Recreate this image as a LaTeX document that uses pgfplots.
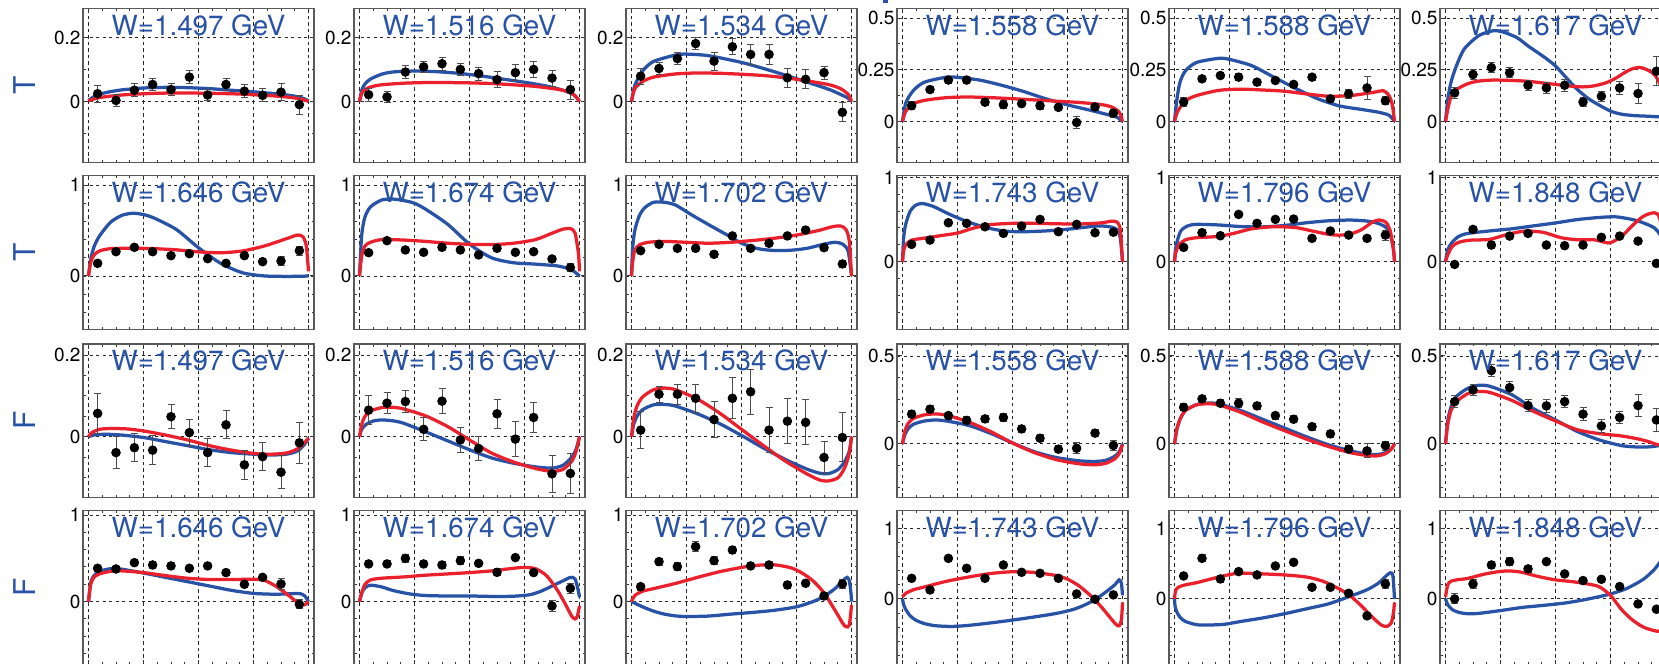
\documentclass[border=0pt]{standalone}
\usepackage{fontspec}
\setmainfont{TeX Gyre Heros}
\usepackage{pgfplots}
\pgfplotsset{compat=1.18}
\definecolor{cblue}{RGB}{40,82,165}
\definecolor{cred}{RGB}{234,32,45}
\definecolor{tblue}{RGB}{40,82,165}
\pgfplotsset{
 panel/.style={
  scale only axis, width=92.4pt, height=61.4pt, anchor=north west,
  xmin=-1.05, xmax=1.05, xtick={-1,-0.5,0,0.5,1}, xticklabels={}, minor x tick num=3,
  tick align=inside, tick pos=both, yticklabel pos=left,
  major tick length=1.8pt, minor tick length=1.0pt,
  every tick/.style={black!80, line width=0.4pt},
  grid=major, major grid style={black!85, line width=0.35pt, dash pattern=on 1.3pt off 1.3pt},
  axis line style={black!65, line width=0.5pt},
  every axis title/.style={at={(0.5,1)}, anchor=base, yshift=-10.6pt, font=\fontsize{11.1}{12}\selectfont, text=tblue, inner sep=0pt},
  yticklabel style={font=\fontsize{7.6}{8}\selectfont, inner sep=0.8pt, /pgf/number format/fixed},
  /pgf/number format/assume math mode=true,
  ylabel style={at={(axis description cs:-0.255,0.5)}, anchor=center, font=\fontsize{12}{13}\selectfont, text=tblue},
  clip=true,
 },
 A/.style={panel, ymin=-0.19, ymax=0.29, ytick={0,0.2}, minor ytick={-0.1,0.1}},
 B/.style={panel, ymin=-0.197, ymax=0.545, ytick={0,0.25,0.5}, minor ytick={-0.125,0.125,0.375}},
 C/.style={panel, ymin=-0.586, ymax=1.103, ytick={0,1}, minor ytick={-0.4,-0.2,0.2,0.4,0.6,0.8}},
 D/.style={panel, ymin=-0.80, ymax=1.02, ytick={0,1}, minor ytick={-0.6,-0.4,-0.2,0.2,0.4,0.6,0.8}},
 E/.style={panel, ymin=-0.149, ymax=0.227, ytick={0,0.2}, minor ytick={-0.1,-0.05,0.05,0.1,0.15}},
 F/.style={panel, ymin=-0.305, ymax=0.568, ytick={0,0.5}, minor ytick={-0.25,-0.125,0.125,0.25,0.375}},
 G/.style={panel, ymin=-0.723, ymax=1.05, ytick={0,1}, minor ytick={-0.6,-0.4,-0.2,0.2,0.4,0.6,0.8}},
 H/.style={panel, ymin=-0.925, ymax=1.25, ytick={0,1}, minor ytick={-0.8,-0.6,-0.4,-0.2,0.2,0.4,0.6,0.8}},
 bl/.style={smooth, tension=0.45, line width=1.3pt, cblue, no markers},
 rd/.style={smooth, tension=0.45, line width=1.3pt, cred, no markers},
 dat/.style={only marks, mark=*, mark size=1.7pt, black, error bars/.cd, y dir=both, y explicit,
   error bar style={line width=0.4pt, black!70}, error mark options={rotate=90, mark size=1.4pt, line width=0.4pt, black!70}},
}
\begin{document}
\begin{tikzpicture}
\useasboundingbox (0,0) rectangle (663.6pt,265.2pt);
\clip (0,0) rectangle (663.6pt,265.2pt);
\fill[tblue] (353.2pt,263.8pt) rectangle (355.2pt,265.2pt);
% ================= ROW 1 (T) =================
\begin{axis}[A, at={(33.2pt,261.72pt)}, title={W=1.497 GeV}, ylabel={T}]
\addplot[bl] coordinates {(-1,0.003) (-0.95,0.015) (-0.85,0.027) (-0.7,0.036) (-0.5,0.042) (-0.3,0.044) (-0.1,0.043) (0.1,0.04) (0.3,0.035) (0.5,0.03) (0.7,0.024) (0.85,0.018) (0.95,0.01) (1,0.002)};
\addplot[rd] coordinates {(-1,0.002) (-0.9,0.012) (-0.7,0.02) (-0.5,0.024) (-0.3,0.026) (0,0.026) (0.3,0.024) (0.5,0.021) (0.7,0.017) (0.85,0.012) (0.95,0.006) (1,0)};
\addplot[dat] coordinates {(-0.917,0.024)+-(0,0.026) (-0.75,0.003)+-(0,0.02) (-0.583,0.035)+-(0,0.02) (-0.417,0.053)+-(0,0.02) (-0.25,0.037)+-(0,0.02) (-0.083,0.076)+-(0,0.02) (0.083,0.02)+-(0,0.017) (0.25,0.053)+-(0,0.02) (0.417,0.032)+-(0,0.02) (0.583,0.019)+-(0,0.02) (0.75,0.029)+-(0,0.027) (0.917,-0.01)+-(0,0.03)};
\end{axis}
\begin{axis}[A, at={(141.6pt,261.72pt)}, title={W=1.516 GeV}]
\addplot[bl] coordinates {(-1,0) (-0.98,0.035) (-0.95,0.055) (-0.9,0.07) (-0.8,0.085) (-0.7,0.092) (-0.5,0.095) (-0.3,0.093) (-0.1,0.088) (0.1,0.08) (0.3,0.07) (0.5,0.06) (0.7,0.048) (0.85,0.035) (0.95,0.02) (1,0)};
\addplot[rd] coordinates {(-1,0) (-0.98,0.025) (-0.95,0.037) (-0.9,0.045) (-0.8,0.052) (-0.6,0.057) (-0.4,0.059) (-0.2,0.059) (0,0.058) (0.2,0.056) (0.4,0.052) (0.6,0.047) (0.8,0.038) (0.9,0.03) (0.96,0.018) (1,0)};
\addplot[dat] coordinates {(-0.917,0.021)+-(0,0.02) (-0.75,0.014)+-(0,0.018) (-0.583,0.092)+-(0,0.02) (-0.417,0.108)+-(0,0.017) (-0.25,0.118)+-(0,0.02) (-0.083,0.10)+-(0,0.02) (0.083,0.087)+-(0,0.02) (0.25,0.068)+-(0,0.025) (0.417,0.09)+-(0,0.025) (0.583,0.10)+-(0,0.025) (0.75,0.073)+-(0,0.025) (0.917,0.037)+-(0,0.03)};
\end{axis}
\begin{axis}[A, at={(250.4pt,261.72pt)}, title={W=1.534 GeV}]
\addplot[bl] coordinates {(-1,0) (-0.97,0.05) (-0.9,0.095) (-0.8,0.125) (-0.6,0.145) (-0.5,0.148) (-0.3,0.143) (0,0.122) (0.2,0.103) (0.4,0.082) (0.6,0.06) (0.8,0.037) (0.9,0.022) (0.97,0.01) (1,0)};
\addplot[rd] coordinates {(-1,0) (-0.97,0.04) (-0.9,0.062) (-0.8,0.076) (-0.6,0.086) (-0.4,0.089) (-0.2,0.088) (0,0.085) (0.2,0.081) (0.4,0.074) (0.6,0.064) (0.8,0.052) (0.9,0.04) (0.97,0.022) (1,0)};
\addplot[dat] coordinates {(-0.917,0.079)+-(0,0.025) (-0.75,0.103)+-(0,0.02) (-0.583,0.134)+-(0,0.02) (-0.417,0.181)+-(0,0.02) (-0.25,0.126)+-(0,0.028) (-0.083,0.171)+-(0,0.025) (0.083,0.147)+-(0,0.03) (0.25,0.147)+-(0,0.03) (0.417,0.074)+-(0,0.03) (0.583,0.069)+-(0,0.03) (0.75,0.09)+-(0,0.02) (0.917,-0.034)+-(0,0.03)};
\end{axis}
\begin{axis}[B, at={(358.8pt,261.72pt)}, title={W=1.558 GeV}]
\addplot[bl] coordinates {(-1,0) (-0.97,0.09) (-0.9,0.15) (-0.8,0.19) (-0.6,0.214) (-0.5,0.213) (-0.3,0.2) (-0.1,0.175) (0.1,0.145) (0.3,0.11) (0.5,0.08) (0.7,0.055) (0.85,0.035) (0.95,0.02) (1,0)};
\addplot[rd] coordinates {(-1,0) (-0.97,0.05) (-0.9,0.085) (-0.8,0.102) (-0.6,0.115) (-0.4,0.118) (-0.2,0.115) (0,0.11) (0.2,0.104) (0.4,0.098) (0.6,0.092) (0.8,0.082) (0.9,0.07) (0.97,0.045) (1,0)};
\addplot[dat] coordinates {(-0.917,0.076)+-(0,0.02) (-0.75,0.154)+-(0,0.015) (-0.583,0.20)+-(0,0.015) (-0.417,0.20)+-(0,0.015) (-0.25,0.093)+-(0,0.018) (-0.083,0.081)+-(0,0.018) (0.083,0.086)+-(0,0.015) (0.25,0.076)+-(0,0.018) (0.417,0.068)+-(0,0.015) (0.583,-0.005)+-(0,0.03) (0.75,0.07)+-(0,0.015) (0.917,0.04)+-(0,0.02)};
\end{axis}
\begin{axis}[B, at={(467.6pt,261.72pt)}, title={W=1.588 GeV}]
\addplot[bl] coordinates {(-1,0) (-0.98,0.1) (-0.95,0.19) (-0.9,0.245) (-0.8,0.285) (-0.6,0.305) (-0.5,0.3) (-0.3,0.27) (-0.1,0.215) (0.1,0.16) (0.3,0.11) (0.5,0.075) (0.7,0.058) (0.85,0.045) (0.95,0.03) (1,0)};
\addplot[rd] coordinates {(-1,0) (-0.97,0.05) (-0.9,0.1) (-0.8,0.125) (-0.6,0.15) (-0.4,0.156) (-0.2,0.152) (0,0.146) (0.2,0.133) (0.4,0.122) (0.6,0.125) (0.8,0.14) (0.9,0.148) (0.95,0.125) (0.98,0.08) (1,0)};
\addplot[dat] coordinates {(-0.917,0.094)+-(0,0.02) (-0.75,0.206)+-(0,0.012) (-0.583,0.222)+-(0,0.015) (-0.417,0.214)+-(0,0.018) (-0.25,0.19)+-(0,0.015) (-0.083,0.198)+-(0,0.015) (0.083,0.179)+-(0,0.015) (0.25,0.214)+-(0,0.015) (0.417,0.109)+-(0,0.015) (0.583,0.133)+-(0,0.02) (0.75,0.162)+-(0,0.055) (0.917,0.10)+-(0,0.02)};
\end{axis}
\begin{axis}[B, at={(576.0pt,261.72pt)}, title={W=1.617 GeV}]
\addplot[bl] coordinates {(-1,0) (-0.98,0.105) (-0.95,0.19) (-0.9,0.27) (-0.83,0.35) (-0.7,0.414) (-0.57,0.438) (-0.48,0.433) (-0.35,0.405) (-0.25,0.365) (-0.1,0.31) (0,0.268) (0.1,0.21) (0.2,0.154) (0.3,0.11) (0.39,0.081) (0.5,0.05) (0.6,0.035) (0.72,0.028) (0.85,0.025) (1,0.02)};
\addplot[rd] coordinates {(-1,0) (-0.98,0.057) (-0.95,0.12) (-0.9,0.154) (-0.8,0.182) (-0.7,0.195) (-0.57,0.2) (-0.4,0.198) (-0.25,0.194) (-0.1,0.185) (0,0.179) (0.15,0.17) (0.25,0.167) (0.35,0.172) (0.46,0.187) (0.55,0.21) (0.65,0.243) (0.72,0.258) (0.78,0.26) (0.85,0.245) (0.91,0.219) (0.97,0.15) (1,0)};
\addplot[dat] coordinates {(-0.917,0.138)+-(0,0.025) (-0.75,0.227)+-(0,0.025) (-0.583,0.26)+-(0,0.025) (-0.417,0.235)+-(0,0.025) (-0.25,0.175)+-(0,0.025) (-0.083,0.162)+-(0,0.025) (0.083,0.175)+-(0,0.03) (0.25,0.094)+-(0,0.02) (0.417,0.122)+-(0,0.025) (0.583,0.162)+-(0,0.03) (0.75,0.135)+-(0,0.05) (0.917,0.243)+-(0,0.07)};
\end{axis}
% ================= ROW 2 (T) =================
\begin{axis}[C, at={(33.2pt,194.92pt)}, title={W=1.646 GeV}, ylabel={T}]
\addplot[bl] coordinates {(-1,0) (-0.98,0.18) (-0.95,0.32) (-0.9,0.44) (-0.8,0.59) (-0.7,0.665) (-0.6,0.69) (-0.5,0.675) (-0.4,0.635) (-0.2,0.51) (0,0.31) (0.2,0.14) (0.4,0.035) (0.6,0.0) (0.8,-0.005) (0.95,-0.003) (1,0)};
\addplot[rd] coordinates {(-1,0) (-0.98,0.15) (-0.95,0.23) (-0.9,0.275) (-0.8,0.3) (-0.6,0.305) (-0.4,0.3) (-0.2,0.287) (0,0.265) (0.2,0.255) (0.4,0.275) (0.6,0.33) (0.8,0.41) (0.9,0.45) (0.95,0.43) (0.98,0.33) (1,0.05)};
\addplot[dat] coordinates {(-0.917,0.139)+-(0,0.02) (-0.75,0.267)+-(0,0.02) (-0.583,0.315)+-(0,0.02) (-0.417,0.267)+-(0,0.02) (-0.25,0.223)+-(0,0.025) (-0.083,0.245)+-(0,0.02) (0.083,0.19)+-(0,0.02) (0.25,0.139)+-(0,0.02) (0.417,0.223)+-(0,0.02) (0.583,0.157)+-(0,0.03) (0.75,0.165)+-(0,0.05) (0.917,0.278)+-(0,0.05)};
\end{axis}
\begin{axis}[C, at={(141.6pt,194.92pt)}, title={W=1.674 GeV}]
\addplot[bl] coordinates {(-1,0) (-0.98,0.45) (-0.95,0.65) (-0.9,0.76) (-0.8,0.835) (-0.7,0.846) (-0.6,0.83) (-0.5,0.8) (-0.4,0.735) (-0.2,0.57) (0,0.35) (0.2,0.2) (0.4,0.145) (0.6,0.13) (0.8,0.11) (0.9,0.08) (0.95,0.05) (1,0)};
\addplot[rd] coordinates {(-1,0) (-0.98,0.22) (-0.95,0.33) (-0.9,0.37) (-0.8,0.4) (-0.6,0.395) (-0.4,0.38) (-0.2,0.36) (0,0.348) (0.2,0.345) (0.4,0.36) (0.6,0.4) (0.75,0.47) (0.85,0.515) (0.92,0.52) (0.96,0.47) (0.99,0.25) (1,0.05)};
\addplot[dat] coordinates {(-0.917,0.256)+-(0,0.02) (-0.75,0.388)+-(0,0.025) (-0.583,0.286)+-(0,0.025) (-0.417,0.26)+-(0,0.02) (-0.25,0.315)+-(0,0.025) (-0.083,0.286)+-(0,0.025) (0.083,0.231)+-(0,0.025) (0.25,0.304)+-(0,0.025) (0.417,0.26)+-(0,0.02) (0.583,0.267)+-(0,0.02) (0.75,0.187)+-(0,0.03) (0.917,0.092)+-(0,0.04)};
\end{axis}
\begin{axis}[C, at={(250.4pt,194.92pt)}, title={W=1.702 GeV}]
\addplot[bl] coordinates {(-1,0) (-0.99,0.3) (-0.97,0.5) (-0.93,0.66) (-0.88,0.75) (-0.8,0.81) (-0.7,0.81) (-0.6,0.78) (-0.45,0.67) (-0.3,0.565) (-0.1,0.43) (0,0.36) (0.15,0.3) (0.3,0.28) (0.45,0.283) (0.6,0.305) (0.75,0.35) (0.85,0.37) (0.92,0.35) (0.97,0.27) (1,0)};
\addplot[rd] coordinates {(-1,0) (-0.99,0.15) (-0.97,0.28) (-0.93,0.34) (-0.85,0.37) (-0.7,0.38) (-0.5,0.37) (-0.3,0.36) (-0.1,0.37) (0.1,0.39) (0.3,0.415) (0.5,0.45) (0.7,0.5) (0.82,0.54) (0.9,0.55) (0.95,0.51) (0.98,0.38) (1,0)};
\addplot[dat] coordinates {(-0.917,0.278)+-(0,0.03) (-0.75,0.348)+-(0,0.025) (-0.583,0.304)+-(0,0.025) (-0.417,0.304)+-(0,0.03) (-0.25,0.238)+-(0,0.03) (-0.083,0.44)+-(0,0.03) (0.083,0.304)+-(0,0.025) (0.25,0.359)+-(0,0.025) (0.417,0.44)+-(0,0.03) (0.583,0.505)+-(0,0.03) (0.75,0.311)+-(0,0.035) (0.917,0.132)+-(0,0.04)};
\end{axis}
\begin{axis}[D, at={(358.8pt,194.92pt)}, title={W=1.743 GeV}]
\addplot[bl] coordinates {(-1,0) (-0.99,0.28) (-0.97,0.45) (-0.93,0.6) (-0.88,0.67) (-0.82,0.69) (-0.72,0.655) (-0.56,0.555) (-0.4,0.47) (-0.24,0.405) (-0.08,0.365) (0.08,0.355) (0.3,0.365) (0.5,0.385) (0.7,0.415) (0.8,0.425) (0.9,0.41) (0.95,0.38) (0.98,0.28) (1,0)};
\addplot[rd] coordinates {(-1,0) (-0.99,0.13) (-0.97,0.2) (-0.92,0.255) (-0.8,0.28) (-0.65,0.31) (-0.5,0.34) (-0.35,0.4) (-0.2,0.44) (0,0.455) (0.2,0.455) (0.4,0.45) (0.6,0.447) (0.8,0.46) (0.9,0.48) (0.95,0.47) (0.98,0.38) (1,0)};
\addplot[dat] coordinates {(-0.917,0.206)+-(0,0.025) (-0.75,0.257)+-(0,0.03) (-0.583,0.462)+-(0,0.03) (-0.417,0.455)+-(0,0.025) (-0.25,0.415)+-(0,0.015) (-0.083,0.336)+-(0,0.015) (0.083,0.423)+-(0,0.02) (0.25,0.502)+-(0,0.02) (0.417,0.356)+-(0,0.015) (0.583,0.443)+-(0,0.015) (0.75,0.344)+-(0,0.025) (0.917,0.35)+-(0,0.03)};
\end{axis}
\begin{axis}[D, at={(467.6pt,194.92pt)}, title={W=1.796 GeV}]
\addplot[bl] coordinates {(-1,0) (-0.99,0.15) (-0.97,0.27) (-0.94,0.37) (-0.88,0.425) (-0.8,0.443) (-0.6,0.436) (-0.4,0.417) (-0.2,0.413) (0,0.43) (0.2,0.462) (0.4,0.485) (0.6,0.494) (0.75,0.482) (0.85,0.455) (0.92,0.41) (0.96,0.33) (0.99,0.15) (1,0)};
\addplot[rd] coordinates {(-1,0) (-0.99,0.1) (-0.96,0.2) (-0.9,0.26) (-0.8,0.285) (-0.6,0.3) (-0.45,0.34) (-0.3,0.39) (-0.1,0.415) (0.1,0.405) (0.25,0.365) (0.4,0.325) (0.5,0.315) (0.6,0.33) (0.7,0.38) (0.8,0.47) (0.86,0.495) (0.92,0.47) (0.96,0.37) (0.99,0.15) (1,0)};
\addplot[dat] coordinates {(-0.917,0.17)+-(0,0.035) (-0.75,0.344)+-(0,0.035) (-0.583,0.308)+-(0,0.03) (-0.417,0.561)+-(0,0.03) (-0.25,0.455)+-(0,0.02) (-0.083,0.502)+-(0,0.025) (0.083,0.506)+-(0,0.025) (0.25,0.277)+-(0,0.02) (0.417,0.364)+-(0,0.02) (0.583,0.316)+-(0,0.015) (0.75,0.277)+-(0,0.03) (0.917,0.316)+-(0,0.06)};
\end{axis}
\begin{axis}[D, at={(576.0pt,194.92pt)}, title={W=1.848 GeV}]
\addplot[bl] coordinates {(-1,0) (-0.98,0.14) (-0.94,0.23) (-0.88,0.3) (-0.8,0.335) (-0.6,0.365) (-0.4,0.39) (-0.2,0.425) (0,0.46) (0.2,0.5) (0.4,0.525) (0.55,0.532) (0.7,0.5) (0.8,0.46) (0.9,0.4) (0.95,0.32) (0.98,0.2) (1,0)};
\addplot[rd] coordinates {(-1,0) (-0.98,0.08) (-0.94,0.18) (-0.88,0.23) (-0.78,0.255) (-0.6,0.265) (-0.45,0.32) (-0.3,0.36) (-0.2,0.36) (-0.1,0.345) (0.05,0.285) (0.2,0.26) (0.35,0.26) (0.45,0.23) (0.5,0.225) (0.6,0.3) (0.7,0.43) (0.8,0.54) (0.9,0.58) (0.95,0.5) (1,0)};
\addplot[dat] coordinates {(-0.917,-0.032)+-(0,0.04) (-0.75,0.383)+-(0,0.04) (-0.583,0.198)+-(0,0.04) (-0.417,0.304)+-(0,0.03) (-0.25,0.336)+-(0,0.03) (-0.083,0.198)+-(0,0.025) (0.083,0.19)+-(0,0.025) (0.25,0.198)+-(0,0.025) (0.417,0.289)+-(0,0.025) (0.583,0.304)+-(0,0.025) (0.75,0.245)+-(0,0.025) (0.917,-0.02)+-(0,0.04)};
\end{axis}
% ================= ROW 3 (F) =================
\begin{axis}[E, at={(33.2pt,127.6pt)}, title={W=1.497 GeV}, ylabel={F}]
\addplot[bl] coordinates {(-1,0) (-0.95,0.004) (-0.85,0.006) (-0.7,0.004) (-0.5,-0.002) (-0.3,-0.012) (-0.1,-0.022) (0.1,-0.032) (0.3,-0.039) (0.5,-0.043) (0.65,-0.045) (0.8,-0.043) (0.9,-0.035) (0.96,-0.02) (1,-0.004)};
\addplot[rd] coordinates {(-1,0) (-0.97,0.01) (-0.9,0.018) (-0.8,0.02) (-0.65,0.019) (-0.5,0.014) (-0.3,0.004) (-0.1,-0.008) (0.1,-0.022) (0.3,-0.033) (0.5,-0.041) (0.65,-0.043) (0.8,-0.04) (0.9,-0.03) (0.96,-0.016) (1,-0.003)};
\addplot[dat] coordinates {(-0.917,0.057)+-(0,0.049) (-0.75,-0.039)+-(0,0.04) (-0.583,-0.027)+-(0,0.035) (-0.417,-0.033)+-(0,0.035) (-0.25,0.049)+-(0,0.03) (-0.083,0.01)+-(0,0.033) (0.083,-0.039)+-(0,0.035) (0.25,0.029)+-(0,0.034) (0.417,-0.069)+-(0,0.035) (0.583,-0.049)+-(0,0.035) (0.75,-0.087)+-(0,0.04) (0.917,-0.015)+-(0,0.05)};
\end{axis}
\begin{axis}[E, at={(141.6pt,127.6pt)}, title={W=1.516 GeV}]
\addplot[bl] coordinates {(-1,0) (-0.98,0.018) (-0.94,0.03) (-0.88,0.038) (-0.8,0.041) (-0.7,0.039) (-0.6,0.033) (-0.4,0.012) (-0.2,-0.01) (0,-0.032) (0.2,-0.052) (0.4,-0.065) (0.6,-0.074) (0.75,-0.077) (0.85,-0.07) (0.93,-0.05) (0.97,-0.03) (1,0)};
\addplot[rd] coordinates {(-1,0) (-0.98,0.03) (-0.95,0.05) (-0.9,0.063) (-0.8,0.071) (-0.7,0.072) (-0.6,0.068) (-0.4,0.051) (-0.2,0.025) (0,-0.008) (0.2,-0.04) (0.4,-0.062) (0.6,-0.078) (0.75,-0.085) (0.85,-0.08) (0.93,-0.06) (0.97,-0.035) (1,0)};
\addplot[dat] coordinates {(-0.917,0.065)+-(0,0.035) (-0.75,0.082)+-(0,0.025) (-0.583,0.086)+-(0,0.028) (-0.417,0.018)+-(0,0.028) (-0.25,0.087)+-(0,0.03) (-0.083,-0.008)+-(0,0.03) (0.083,-0.029)+-(0,0.03) (0.25,0.056)+-(0,0.035) (0.417,-0.006)+-(0,0.042) (0.583,0.047)+-(0,0.037) (0.75,-0.091)+-(0,0.045) (0.917,-0.09)+-(0,0.05)};
\end{axis}
\begin{axis}[E, at={(250.4pt,127.6pt)}, title={W=1.534 GeV}]
\addplot[bl] coordinates {(-1,0) (-0.98,0.03) (-0.95,0.05) (-0.9,0.066) (-0.8,0.078) (-0.7,0.079) (-0.6,0.075) (-0.4,0.056) (-0.2,0.032) (0,0.003) (0.2,-0.028) (0.4,-0.056) (0.6,-0.08) (0.72,-0.09) (0.8,-0.09) (0.88,-0.08) (0.94,-0.06) (0.98,-0.035) (1,0)};
\addplot[rd] coordinates {(-1,0) (-0.98,0.045) (-0.95,0.075) (-0.9,0.097) (-0.8,0.115) (-0.7,0.119) (-0.6,0.115) (-0.4,0.092) (-0.2,0.058) (0,0.018) (0.2,-0.022) (0.4,-0.06) (0.6,-0.092) (0.72,-0.107) (0.8,-0.108) (0.88,-0.1) (0.94,-0.075) (0.98,-0.04) (1,0)};
\addplot[dat] coordinates {(-0.917,0.016)+-(0,0.045) (-0.75,0.104)+-(0,0.02) (-0.583,0.104)+-(0,0.025) (-0.417,0.094)+-(0,0.035) (-0.25,0.042)+-(0,0.045) (-0.083,0.094)+-(0,0.05) (0.083,0.11)+-(0,0.055) (0.25,0.016)+-(0,0.055) (0.417,0.038)+-(0,0.055) (0.583,0.035)+-(0,0.055) (0.75,-0.051)+-(0,0.04) (0.917,-0.002)+-(0,0.06)};
\end{axis}
\begin{axis}[F, at={(358.8pt,127.6pt)}, title={W=1.558 GeV}]
\addplot[bl] coordinates {(-1,0) (-0.98,0.05) (-0.95,0.085) (-0.9,0.112) (-0.8,0.13) (-0.7,0.136) (-0.6,0.13) (-0.4,0.105) (-0.2,0.06) (0,0.005) (0.2,-0.045) (0.4,-0.078) (0.6,-0.096) (0.75,-0.1) (0.85,-0.093) (0.93,-0.07) (0.97,-0.045) (1,0)};
\addplot[rd] coordinates {(-1,0) (-0.98,0.07) (-0.95,0.115) (-0.9,0.145) (-0.8,0.165) (-0.7,0.17) (-0.6,0.163) (-0.4,0.125) (-0.2,0.07) (0,0.005) (0.2,-0.05) (0.4,-0.09) (0.6,-0.113) (0.75,-0.119) (0.85,-0.11) (0.93,-0.085) (0.97,-0.055) (1,-0.005)};
\addplot[dat] coordinates {(-0.917,0.169)+-(0,0.02) (-0.75,0.197)+-(0,0.02) (-0.583,0.161)+-(0,0.02) (-0.417,0.133)+-(0,0.02) (-0.25,0.142)+-(0,0.02) (-0.083,0.15)+-(0,0.02) (0.083,0.085)+-(0,0.02) (0.25,0.032)+-(0,0.02) (0.417,-0.03)+-(0,0.02) (0.583,-0.025)+-(0,0.03) (0.75,0.061)+-(0,0.02) (0.917,-0.009)+-(0,0.03)};
\end{axis}
\begin{axis}[F, at={(467.6pt,127.6pt)}, title={W=1.588 GeV}]
\addplot[bl] coordinates {(-1,0) (-0.98,0.08) (-0.95,0.14) (-0.9,0.19) (-0.8,0.223) (-0.7,0.232) (-0.6,0.228) (-0.4,0.19) (-0.2,0.14) (0,0.09) (0.2,0.04) (0.4,-0.005) (0.6,-0.04) (0.75,-0.058) (0.85,-0.06) (0.92,-0.05) (0.97,-0.03) (1,0)};
\addplot[rd] coordinates {(-1,0) (-0.98,0.08) (-0.95,0.14) (-0.9,0.19) (-0.8,0.222) (-0.7,0.228) (-0.6,0.222) (-0.4,0.18) (-0.2,0.125) (0,0.075) (0.2,0.027) (0.4,-0.015) (0.6,-0.05) (0.75,-0.066) (0.85,-0.068) (0.92,-0.055) (0.97,-0.03) (1,0)};
\addplot[dat] coordinates {(-0.917,0.208)+-(0,0.02) (-0.75,0.256)+-(0,0.02) (-0.583,0.231)+-(0,0.02) (-0.417,0.231)+-(0,0.025) (-0.25,0.216)+-(0,0.022) (-0.083,0.161)+-(0,0.02) (0.083,0.14)+-(0,0.02) (0.25,0.098)+-(0,0.02) (0.417,0.057)+-(0,0.02) (0.583,-0.03)+-(0,0.02) (0.75,-0.04)+-(0,0.04) (0.917,-0.01)+-(0,0.025)};
\end{axis}
\begin{axis}[F, at={(576.0pt,127.6pt)}, title={W=1.617 GeV}]
\addplot[bl] coordinates {(-1,0) (-0.98,0.13) (-0.95,0.21) (-0.9,0.27) (-0.8,0.315) (-0.7,0.333) (-0.6,0.328) (-0.4,0.28) (-0.2,0.2) (0,0.136) (0.2,0.07) (0.4,0.022) (0.6,-0.01) (0.75,-0.018) (0.85,-0.017) (0.93,-0.011) (1,0)};
\addplot[rd] coordinates {(-1,0) (-0.98,0.11) (-0.95,0.19) (-0.9,0.24) (-0.8,0.285) (-0.7,0.298) (-0.6,0.293) (-0.4,0.248) (-0.2,0.185) (0,0.13) (0.2,0.08) (0.4,0.058) (0.6,0.045) (0.75,0.028) (0.85,0.012) (0.93,-0.005) (1,0)};
\addplot[dat] coordinates {(-0.917,0.24)+-(0,0.035) (-0.75,0.307)+-(0,0.03) (-0.583,0.417)+-(0,0.035) (-0.417,0.32)+-(0,0.035) (-0.25,0.218)+-(0,0.035) (-0.083,0.216)+-(0,0.035) (0.083,0.24)+-(0,0.035) (0.25,0.169)+-(0,0.035) (0.417,0.102)+-(0,0.035) (0.583,0.15)+-(0,0.035) (0.75,0.218)+-(0,0.065) (0.917,0.136)+-(0,0.065)};
\end{axis}
% ================= ROW 4 (F) =================
\begin{axis}[G, at={(33.2pt,60.92pt)}, title={W=1.646 GeV}, ylabel={F}]
\addplot[bl] coordinates {(-1,0) (-0.98,0.22) (-0.95,0.3) (-0.9,0.35) (-0.8,0.38) (-0.7,0.375) (-0.5,0.33) (-0.3,0.28) (-0.1,0.23) (0.1,0.18) (0.3,0.13) (0.5,0.095) (0.7,0.085) (0.85,0.092) (0.93,0.09) (0.97,0.06) (1,0)};
\addplot[rd] coordinates {(-1,0) (-0.98,0.2) (-0.95,0.28) (-0.9,0.32) (-0.8,0.35) (-0.7,0.355) (-0.5,0.335) (-0.3,0.3) (-0.1,0.27) (0.1,0.255) (0.3,0.255) (0.5,0.258) (0.6,0.245) (0.7,0.18) (0.8,0.09) (0.88,0.01) (0.94,-0.035) (0.97,-0.035) (1,0)};
\addplot[dat] coordinates {(-0.917,0.385)+-(0,0.03) (-0.75,0.377)+-(0,0.03) (-0.583,0.45)+-(0,0.03) (-0.417,0.423)+-(0,0.035) (-0.25,0.412)+-(0,0.035) (-0.083,0.385)+-(0,0.03) (0.083,0.412)+-(0,0.03) (0.25,0.335)+-(0,0.03) (0.417,0.2)+-(0,0.03) (0.583,0.28)+-(0,0.03) (0.75,0.204)+-(0,0.06) (0.917,-0.031)+-(0,0.05)};
\end{axis}
\begin{axis}[G, at={(141.6pt,60.92pt)}, title={W=1.674 GeV}]
\addplot[bl] coordinates {(-1,0) (-0.98,0.1) (-0.95,0.16) (-0.9,0.19) (-0.8,0.17) (-0.7,0.13) (-0.55,0.09) (-0.4,0.07) (-0.2,0.065) (0,0.065) (0.2,0.06) (0.4,0.062) (0.55,0.08) (0.65,0.12) (0.75,0.18) (0.85,0.24) (0.92,0.28) (0.96,0.26) (0.99,0.12) (1,0.05)};
\addplot[rd] coordinates {(-1,0) (-0.98,0.1) (-0.95,0.2) (-0.9,0.25) (-0.8,0.27) (-0.6,0.285) (-0.4,0.305) (-0.2,0.32) (0,0.335) (0.2,0.355) (0.4,0.385) (0.5,0.395) (0.6,0.38) (0.7,0.3) (0.8,0.13) (0.88,-0.05) (0.93,-0.17) (0.96,-0.2) (0.98,-0.17) (1,-0.05)};
\addplot[dat] coordinates {(-0.917,0.435)+-(0,0.035) (-0.75,0.435)+-(0,0.035) (-0.583,0.5)+-(0,0.045) (-0.417,0.435)+-(0,0.035) (-0.25,0.423)+-(0,0.04) (-0.083,0.473)+-(0,0.045) (0.083,0.442)+-(0,0.035) (0.25,0.338)+-(0,0.04) (0.417,0.508)+-(0,0.035) (0.583,0.335)+-(0,0.035) (0.75,-0.05)+-(0,0.06) (0.917,0.154)+-(0,0.06)};
\end{axis}
\begin{axis}[G, at={(250.4pt,60.92pt)}, title={W=1.702 GeV}]
\addplot[bl] coordinates {(-1,0) (-0.9,-0.06) (-0.8,-0.11) (-0.7,-0.145) (-0.6,-0.165) (-0.5,-0.172) (-0.3,-0.167) (-0.1,-0.145) (0.1,-0.125) (0.3,-0.1) (0.5,-0.06) (0.65,0.0) (0.75,0.06) (0.85,0.15) (0.92,0.24) (0.96,0.28) (0.98,0.24) (0.995,0.1) (1,0)};
\addplot[rd] coordinates {(-1,0) (-0.97,0.07) (-0.9,0.12) (-0.8,0.15) (-0.6,0.21) (-0.4,0.28) (-0.2,0.345) (0,0.395) (0.15,0.42) (0.3,0.425) (0.45,0.39) (0.55,0.33) (0.65,0.24) (0.75,0.1) (0.85,-0.1) (0.92,-0.25) (0.95,-0.29) (0.98,-0.27) (1,-0.04)};
\addplot[dat] coordinates {(-0.917,0.173)+-(0,0.04) (-0.75,0.462)+-(0,0.04) (-0.583,0.404)+-(0,0.05) (-0.417,0.635)+-(0,0.06) (-0.25,0.473)+-(0,0.05) (-0.083,0.596)+-(0,0.045) (0.083,0.412)+-(0,0.035) (0.25,0.423)+-(0,0.035) (0.417,0.192)+-(0,0.035) (0.583,0.212)+-(0,0.035) (0.75,0.065)+-(0,0.045) (0.917,0.204)+-(0,0.05)};
\end{axis}
\begin{axis}[H, at={(358.8pt,60.92pt)}, title={W=1.743 GeV}]
\addplot[bl] coordinates {(-1,0) (-0.99,-0.08) (-0.97,-0.15) (-0.93,-0.24) (-0.88,-0.3) (-0.8,-0.35) (-0.7,-0.38) (-0.55,-0.39) (-0.4,-0.375) (-0.2,-0.34) (0,-0.3) (0.2,-0.255) (0.4,-0.205) (0.55,-0.15) (0.65,-0.09) (0.75,-0.01) (0.85,0.1) (0.93,0.2) (0.97,0.27) (0.99,0.22) (1,0.05)};
\addplot[rd] coordinates {(-1,0.03) (-0.97,0.08) (-0.9,0.13) (-0.8,0.17) (-0.6,0.25) (-0.4,0.31) (-0.2,0.36) (0,0.385) (0.2,0.375) (0.4,0.33) (0.5,0.28) (0.6,0.19) (0.7,0.06) (0.8,-0.1) (0.88,-0.25) (0.94,-0.36) (0.97,-0.38) (0.99,-0.3) (1,-0.05)};
\addplot[dat] coordinates {(-0.917,0.292)+-(0,0.04) (-0.75,0.127)+-(0,0.04) (-0.583,0.575)+-(0,0.04) (-0.417,0.434)+-(0,0.035) (-0.25,0.292)+-(0,0.03) (-0.083,0.481)+-(0,0.03) (0.083,0.377)+-(0,0.03) (0.25,0.363)+-(0,0.03) (0.417,0.292)+-(0,0.025) (0.583,0.071)+-(0,0.025) (0.75,-0.005)+-(0,0.03) (0.917,0.057)+-(0,0.04)};
\end{axis}
\begin{axis}[H, at={(467.6pt,60.92pt)}, title={W=1.796 GeV}]
\addplot[bl] coordinates {(-1,0) (-0.995,-0.1) (-0.98,-0.18) (-0.95,-0.26) (-0.9,-0.32) (-0.8,-0.365) (-0.7,-0.37) (-0.55,-0.36) (-0.4,-0.32) (-0.2,-0.27) (0,-0.21) (0.2,-0.14) (0.4,-0.07) (0.6,0.04) (0.75,0.13) (0.85,0.22) (0.92,0.32) (0.96,0.37) (0.985,0.33) (1,0)};
\addplot[rd] coordinates {(-1,0) (-0.99,0.12) (-0.96,0.17) (-0.9,0.2) (-0.8,0.23) (-0.65,0.29) (-0.5,0.345) (-0.4,0.365) (-0.2,0.355) (0,0.34) (0.2,0.31) (0.35,0.25) (0.5,0.14) (0.6,0.04) (0.7,-0.1) (0.8,-0.26) (0.88,-0.37) (0.93,-0.39) (0.97,-0.34) (0.99,-0.2) (1,-0.05)};
\addplot[dat] coordinates {(-0.917,0.325)+-(0,0.04) (-0.75,0.575)+-(0,0.05) (-0.583,0.283)+-(0,0.05) (-0.417,0.387)+-(0,0.045) (-0.25,0.34)+-(0,0.04) (-0.083,0.467)+-(0,0.035) (0.083,0.519)+-(0,0.035) (0.25,0.165)+-(0,0.03) (0.417,0.165)+-(0,0.03) (0.583,0.08)+-(0,0.02) (0.75,-0.24)+-(0,0.035) (0.917,0.212)+-(0,0.06)};
\end{axis}
\begin{axis}[H, at={(576.0pt,60.92pt)}, title={W=1.848 GeV}]
\addplot[bl] coordinates {(-1,0) (-0.98,-0.08) (-0.94,-0.15) (-0.88,-0.19) (-0.8,-0.21) (-0.7,-0.205) (-0.5,-0.165) (-0.3,-0.12) (-0.1,-0.09) (0.1,-0.055) (0.3,0.0) (0.5,0.07) (0.65,0.15) (0.8,0.28) (0.9,0.42) (0.95,0.52) (1,0.6)};
\addplot[rd] coordinates {(-1,0.03) (-0.98,0.2) (-0.95,0.25) (-0.9,0.27) (-0.8,0.29) (-0.65,0.35) (-0.5,0.39) (-0.4,0.395) (-0.3,0.375) (-0.15,0.315) (0,0.27) (0.15,0.245) (0.3,0.21) (0.4,0.17) (0.5,0.05) (0.6,-0.15) (0.7,-0.3) (0.8,-0.4) (0.9,-0.45) (0.95,-0.45) (1,-0.3)};
\addplot[dat] coordinates {(-0.917,0.0)+-(0,0.07) (-0.75,0.212)+-(0,0.06) (-0.583,0.481)+-(0,0.05) (-0.417,0.528)+-(0,0.055) (-0.25,0.425)+-(0,0.045) (-0.083,0.528)+-(0,0.045) (0.083,0.354)+-(0,0.04) (0.25,0.26)+-(0,0.035) (0.417,0.278)+-(0,0.035) (0.583,0.175)+-(0,0.03) (0.75,-0.071)+-(0,0.025) (0.917,-0.146)+-(0,0.035)};
\end{axis}
\end{tikzpicture}
\end{document}
